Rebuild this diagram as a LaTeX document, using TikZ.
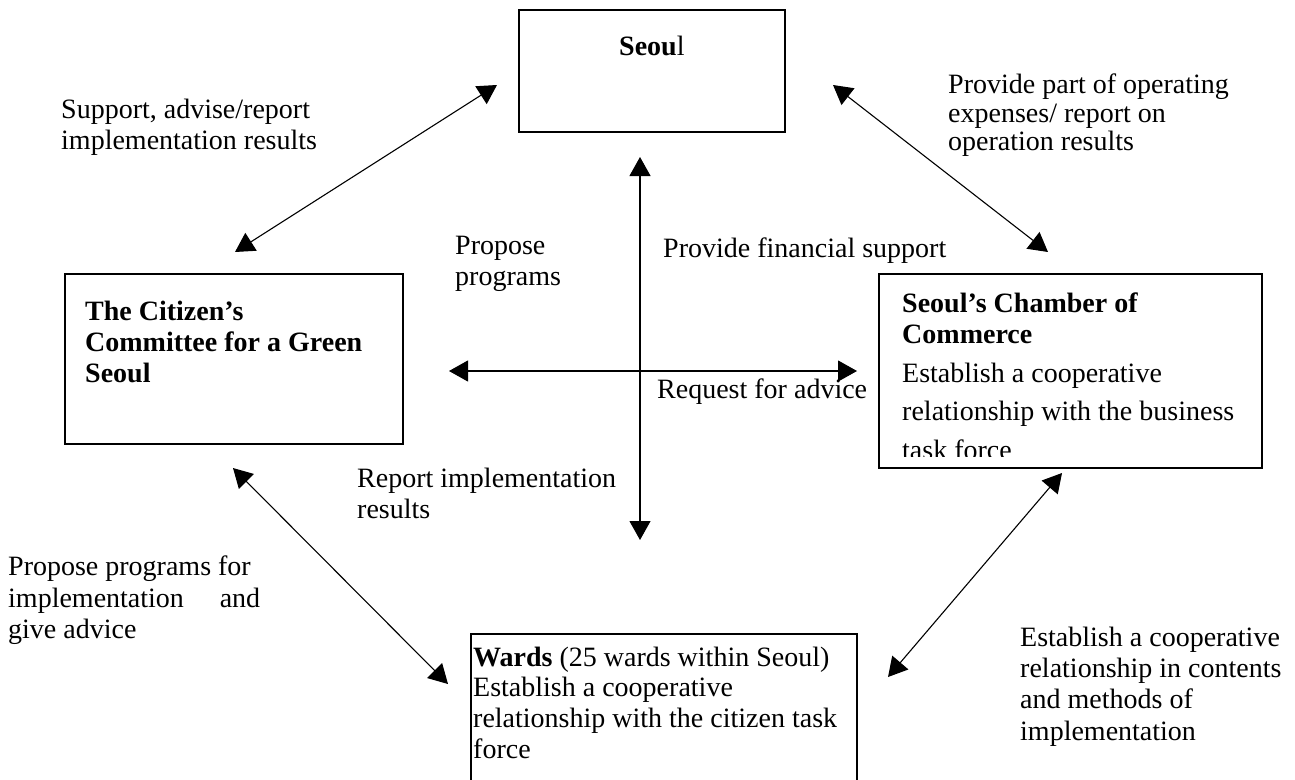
\documentclass[tikz,border=0pt]{standalone}
\usepackage{fontspec}
\setmainfont{Liberation Serif}
\usetikzlibrary{arrows.meta}
\begin{document}
\begin{tikzpicture}[x=1pt,y=-1pt,
  box/.style={draw,line width=1.2pt,inner sep=0pt},
  lbl/.style={anchor=base west,inner sep=0pt,font=\fontsize{28}{31}\selectfont},
  blbl/.style={anchor=base west,inner sep=0pt,font=\fontsize{28}{31}\selectfont\bfseries},
  link/.style={line width=1.1pt,{Triangle[length=19pt,width=21pt]}-{Triangle[length=19pt,width=21pt]}}]
\useasboundingbox (0,0) rectangle (1295,779);
\fill[white] (0,0) rectangle (1295,779);
% boxes
\node[box,minimum width=266pt,minimum height=122pt] (seoul) at (652,71) {};
\node[box,minimum width=338pt,minimum height=170pt] (citizen) at (234,359) {};
\node[box,minimum width=383pt,minimum height=194pt] (chamber) at (1070.5,371) {};
\node[box,minimum width=386pt,minimum height=166pt] (wards) at (664,717) {};
% box texts
\node[lbl] (seoult) at (619,55) {\textbf{Seou}l};
\node[blbl] (c1) at (85,320) {The Citizen’s};
\node[blbl] (c2) at (85,351) {Committee for a Green};
\node[blbl] (c3) at (85,382) {Seoul};
\begin{scope}
\clip (879,274) rectangle (1262,456);
\node[blbl] (h1) at (902,312) {Seoul’s Chamber of};
\node[blbl] (h2) at (902,343) {Commerce};
\node[lbl] (h3) at (902,382) {Establish a cooperative};
\node[lbl] (h4) at (902,420) {relationship with the business};
\node[lbl] (h5) at (902,459) {task force};
\end{scope}
\node[lbl] (w1) at (473,666) {\textbf{Wards} (25 wards within Seoul)};
\node[lbl] (w2) at (473,696) {Establish a cooperative};
\node[lbl] (w3) at (473,727) {relationship with the citizen task};
\node[lbl] (w4) at (473,758) {force};
% labels
\node[lbl] (s1) at (61,118) {Support, advise/report};
\node[lbl] (s2) at (61,149) {implementation results};
\node[lbl] (p1) at (948,93) {Provide part of operating};
\node[lbl] (p2) at (948,122) {expenses/ report on};
\node[lbl] (p3) at (948,150) {operation results};
\node[lbl] (q1) at (455,254) {Propose};
\node[lbl] (q2) at (455,285) {programs};
\node[lbl] (f1) at (663,257) {Provide financial support};
\node[lbl] (r1) at (657,398) {Request for advice};
\node[lbl] (i1) at (357,487) {Report implementation};
\node[lbl] (i2) at (357,518) {results};
\node[lbl] (g1) at (8,575) {Propose programs for};
\node[lbl] (g2) at (8,607) {\makebox[252pt][l]{implementation\hfill and}};
\node[lbl] (g3) at (8,638) {give advice};
\node[lbl] (e1) at (1020,646) {Establish a cooperative};
\node[lbl] (e2) at (1020,677) {relationship in contents};
\node[lbl] (e3) at (1020,708) {and methods of};
\node[lbl] (e4) at (1020,740) {implementation};
% connector ends
\coordinate (a1s) at (497,85);
\coordinate (a1c) at (235,252);
\coordinate (a2s) at (833,85);
\coordinate (a2h) at (1048,252);
\coordinate (vt) at (640,157);
\coordinate (vb) at (640,540);
\coordinate (hl) at (449,371);
\coordinate (hr) at (857,371);
\coordinate (a3c) at (233,468);
\coordinate (a3w) at (448,684);
\coordinate (a4h) at (1062,473);
\coordinate (a4w) at (888,677);
\draw[link] (a1s) -- (a1c);
\draw[link] (a2s) -- (a2h);
\draw[link] (vt) -- (vb);
\draw[link] (hl) -- (hr);
\draw[link] (a3c) -- (a3w);
\draw[link] (a4h) -- (a4w);
\end{tikzpicture}
\end{document}
